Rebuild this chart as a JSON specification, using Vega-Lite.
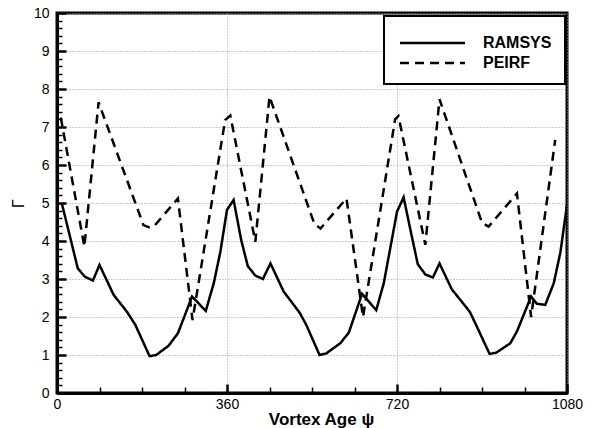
{
  "$schema": "https://vega.github.io/schema/vega-lite/v6.json",
  "width": 510,
  "height": 380,
  "autosize": {"type": "none"},
  "padding": {"left": 57, "top": 13, "right": 27, "bottom": 35},
  "background": "white",
  "config": {
    "view": {"stroke": "black", "strokeWidth": 3},
    "font": "Liberation Sans",
    "axis": {"tickCount": 200, "labelColor": "black", "titleColor": "black", "domainColor": "black", "domainWidth": 3, "labelFont": "Liberation Sans", "labelFontSize": 14, "tickColor": "black"}
  },
  "data": {
    "values": [
      {"x": 10, "y": 5.0, "series": "RAMSYS"},
      {"x": 44, "y": 3.28, "series": "RAMSYS"},
      {"x": 59, "y": 3.06, "series": "RAMSYS"},
      {"x": 76, "y": 2.96, "series": "RAMSYS"},
      {"x": 90, "y": 3.37, "series": "RAMSYS"},
      {"x": 120, "y": 2.58, "series": "RAMSYS"},
      {"x": 148, "y": 2.14, "series": "RAMSYS"},
      {"x": 166, "y": 1.79, "series": "RAMSYS"},
      {"x": 196, "y": 0.97, "series": "RAMSYS"},
      {"x": 210, "y": 1.0, "series": "RAMSYS"},
      {"x": 236, "y": 1.24, "series": "RAMSYS"},
      {"x": 256, "y": 1.57, "series": "RAMSYS"},
      {"x": 286, "y": 2.54, "series": "RAMSYS"},
      {"x": 315, "y": 2.16, "series": "RAMSYS"},
      {"x": 332, "y": 2.89, "series": "RAMSYS"},
      {"x": 346, "y": 3.72, "series": "RAMSYS"},
      {"x": 360, "y": 4.82, "series": "RAMSYS"},
      {"x": 374, "y": 5.08, "series": "RAMSYS"},
      {"x": 390, "y": 4.03, "series": "RAMSYS"},
      {"x": 404, "y": 3.34, "series": "RAMSYS"},
      {"x": 420, "y": 3.09, "series": "RAMSYS"},
      {"x": 436, "y": 3.0, "series": "RAMSYS"},
      {"x": 452, "y": 3.41, "series": "RAMSYS"},
      {"x": 480, "y": 2.67, "series": "RAMSYS"},
      {"x": 514, "y": 2.11, "series": "RAMSYS"},
      {"x": 528, "y": 1.79, "series": "RAMSYS"},
      {"x": 556, "y": 1.0, "series": "RAMSYS"},
      {"x": 570, "y": 1.04, "series": "RAMSYS"},
      {"x": 600, "y": 1.31, "series": "RAMSYS"},
      {"x": 618, "y": 1.59, "series": "RAMSYS"},
      {"x": 646, "y": 2.61, "series": "RAMSYS"},
      {"x": 676, "y": 2.18, "series": "RAMSYS"},
      {"x": 692, "y": 2.89, "series": "RAMSYS"},
      {"x": 720, "y": 4.77, "series": "RAMSYS"},
      {"x": 734, "y": 5.15, "series": "RAMSYS"},
      {"x": 750, "y": 4.2, "series": "RAMSYS"},
      {"x": 764, "y": 3.39, "series": "RAMSYS"},
      {"x": 780, "y": 3.12, "series": "RAMSYS"},
      {"x": 796, "y": 3.04, "series": "RAMSYS"},
      {"x": 810, "y": 3.41, "series": "RAMSYS"},
      {"x": 836, "y": 2.73, "series": "RAMSYS"},
      {"x": 874, "y": 2.14, "series": "RAMSYS"},
      {"x": 886, "y": 1.83, "series": "RAMSYS"},
      {"x": 916, "y": 1.03, "series": "RAMSYS"},
      {"x": 930, "y": 1.06, "series": "RAMSYS"},
      {"x": 960, "y": 1.31, "series": "RAMSYS"},
      {"x": 974, "y": 1.62, "series": "RAMSYS"},
      {"x": 1004, "y": 2.54, "series": "RAMSYS"},
      {"x": 1016, "y": 2.35, "series": "RAMSYS"},
      {"x": 1034, "y": 2.32, "series": "RAMSYS"},
      {"x": 1052, "y": 2.89, "series": "RAMSYS"},
      {"x": 1066, "y": 3.7, "series": "RAMSYS"},
      {"x": 1080, "y": 4.95, "series": "RAMSYS"},
      {"x": 8, "y": 7.25, "series": "PEIRF"},
      {"x": 58, "y": 3.85, "series": "PEIRF"},
      {"x": 88, "y": 7.65, "series": "PEIRF"},
      {"x": 183, "y": 4.42, "series": "PEIRF"},
      {"x": 195, "y": 4.36, "series": "PEIRF"},
      {"x": 205, "y": 4.38, "series": "PEIRF"},
      {"x": 256, "y": 5.12, "series": "PEIRF"},
      {"x": 287, "y": 1.92, "series": "PEIRF"},
      {"x": 356, "y": 7.18, "series": "PEIRF"},
      {"x": 367, "y": 7.3, "series": "PEIRF"},
      {"x": 420, "y": 3.98, "series": "PEIRF"},
      {"x": 450, "y": 7.8, "series": "PEIRF"},
      {"x": 545, "y": 4.45, "series": "PEIRF"},
      {"x": 558, "y": 4.33, "series": "PEIRF"},
      {"x": 613, "y": 5.12, "series": "PEIRF"},
      {"x": 648, "y": 2.0, "series": "PEIRF"},
      {"x": 716, "y": 7.2, "series": "PEIRF"},
      {"x": 723, "y": 7.29, "series": "PEIRF"},
      {"x": 780, "y": 3.9, "series": "PEIRF"},
      {"x": 810, "y": 7.73, "series": "PEIRF"},
      {"x": 900, "y": 4.48, "series": "PEIRF"},
      {"x": 914, "y": 4.38, "series": "PEIRF"},
      {"x": 974, "y": 5.25, "series": "PEIRF"},
      {"x": 1004, "y": 2.0, "series": "PEIRF"},
      {"x": 1055, "y": 6.66, "series": "PEIRF"}
    ]
  },
  "mark": {"type": "line", "color": "black", "strokeWidth": 2.5, "clip": true},
  "encoding": {
    "x": {
      "field": "x", "type": "quantitative",
      "scale": {"domain": [0, 1080], "nice": false, "zero": false},
      "axis": {
        "values": [0, 90, 180, 270, 360, 450, 540, 630, 720, 810, 900, 990, 1080], "format": "d",
        "labelOverlap": false,
        "labelExpr": "datum.value % 360 === 0 ? datum.label : ''",
        "title": "Vortex Age ψ", "titleFont": "Liberation Sans", "titleFontSize": 17, "titleFontWeight": "bold",
        "titlePadding": -3, "titleX": 264,
        "labelPadding": 13, "labelFlush": false,
        "ticks": true,
        "tickSize": {"condition": {"test": "datum.value % 360 === 0", "value": -9}, "value": -6},
        "tickWidth": {"condition": {"test": "datum.value % 360 === 0", "value": 2.5}, "value": 1.5},
        "grid": true, "gridColor": "#999999", "gridDash": [1, 2], "gridWidth": 1,
        "gridOpacity": {"condition": {"test": "datum.value % 360 === 0", "value": 1}, "value": 0}
      }
    },
    "y": {
      "field": "y", "type": "quantitative",
      "scale": {"domain": [0, 10], "nice": false, "zero": false},
      "axis": {
        "tickCount": 50, "labelOverlap": false,
        "labelExpr": "abs(datum.value - round(datum.value)) < 0.001 ? format(datum.value, 'd') : ''",
        "title": "Γ", "titleFont": "Liberation Sans", "titleFontSize": 16, "titleFontWeight": "normal",
        "titlePadding": 7,
        "labelPadding": 17, "labelFlush": false,
        "ticks": true,
        "tickSize": {"condition": {"test": "abs(datum.value - round(datum.value)) < 0.001", "value": -9}, "value": -5},
        "tickWidth": {"condition": {"test": "abs(datum.value - round(datum.value)) < 0.001", "value": 2.5}, "value": 1.5},
        "grid": true, "gridColor": "#999999", "gridDash": [1, 2], "gridWidth": 1,
        "gridOpacity": {"condition": {"test": "abs(datum.value - round(datum.value)) < 0.001", "value": 1}, "value": 0}
      }
    },
    "strokeDash": {
      "field": "series", "type": "nominal",
      "scale": {"domain": ["RAMSYS", "PEIRF"], "range": [[1, 0], [9, 6]]},
      "legend": {
        "orient": "none", "legendX": 327, "legendY": 3, "title": " ", "titleFontSize": 4, "titlePadding": 2,
        "strokeColor": "black", "fillColor": "white", "padding": 13,
        "symbolType": "M-1,0H12", "symbolSize": 100, "symbolStrokeWidth": 2.5, "symbolStrokeColor": "black",
        "labelFont": "Liberation Sans", "labelFontWeight": "bold", "labelFontSize": 16, "labelColor": "black",
        "labelOffset": 70, "rowPadding": 4,
        "encode": {"legend": {"update": {"strokeWidth": {"value": 2}}}}
      }
    }
  }
}
